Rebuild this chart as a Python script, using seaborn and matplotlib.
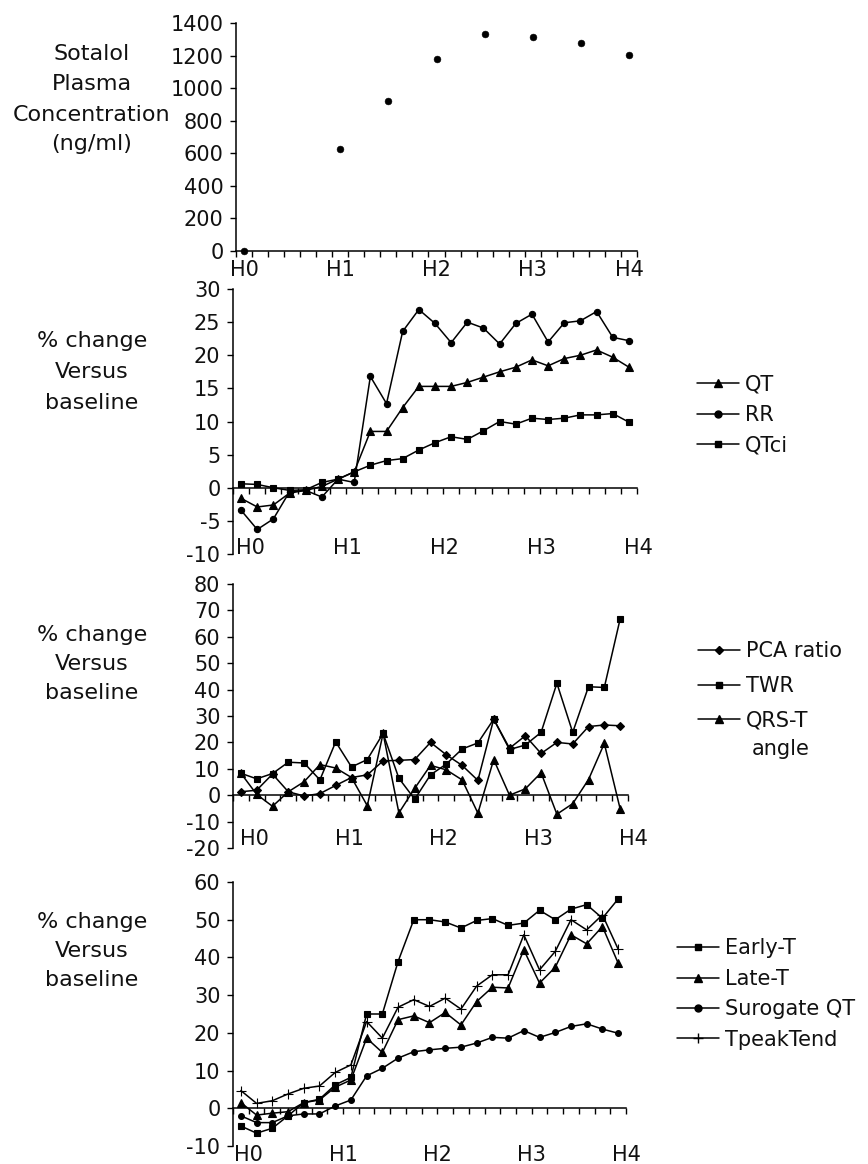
import numpy as np
import pandas as pd
import matplotlib
matplotlib.use("Agg")
import matplotlib.pyplot as plt
import matplotlib.transforms as mtrans
from matplotlib.lines import Line2D
import seaborn as sns

sns.set_theme(style="white")
plt.rcParams["font.family"] = ["DejaVu Sans"]
plt.rcParams["axes.linewidth"] = 1.0

# time points, minutes after first dose (every 10 min)
MINUTES = [0, 10, 20, 30, 40, 50, 60, 70, 80, 90, 100, 110, 120,
           130, 140, 150, 160, 170, 180, 190, 200, 210, 220, 230, 240]
HOUR_TICKS = [0, 60, 120, 180, 240]
HOUR_LABELS = ["H0", "H1", "H2", "H3", "H4"]

# panel 1 - sotalol plasma concentration (ng/ml)
conc_min = [0, 60, 90, 120, 150, 180, 210, 240]
conc_val = [0, 625, 918, 1179, 1330, 1312, 1277, 1203]

# panel 2 - % change vs baseline
qt   = [-1.6, -2.9, -2.6, -0.8, -0.4, 0.2, 1.3, 2.4, 8.5, 8.5, 12.1, 15.3, 15.3,
        15.3, 15.9, 16.7, 17.5, 18.2, 19.3, 18.4, 19.5, 20.0, 20.8, 19.7, 18.2]
rr   = [-3.4, -6.3, -4.7, -0.6, -0.4, -1.4, 1.3, 0.8, 16.8, 12.7, 23.6, 26.9, 24.8,
        21.9, 25.0, 24.1, 21.7, 24.8, 26.2, 22.0, 24.9, 25.2, 26.6, 22.7, 22.2]
qtci = [0.6, 0.5, 0.0, -0.4, -0.3, 0.8, 1.3, 2.4, 3.4, 4.1, 4.4, 5.7, 6.8,
        7.7, 7.3, 8.6, 10.0, 9.6, 10.5, 10.3, 10.5, 11.0, 11.0, 11.2, 9.9]

# panel 3
pca = [1.3, 1.9, 8.0, 1.3, -0.3, 0.6, 3.7, 6.7, 7.7, 13.0, 13.2, 13.5, 20.0,
       15.3, 11.3, 5.6, 28.8, 17.8, 22.5, 15.8, 20.0, 19.4, 26.0, 26.6, 26.3]
twr = [8.3, 6.2, 8.2, 12.5, 12.2, 5.8, 20.2, 10.7, 13.5, 23.4, 6.4, -1.5, 7.7,
       11.8, 17.5, 19.8, 28.8, 17.3, 19.0, 23.8, 42.4, 23.8, 41.1, 40.8, 66.7]
qrst = [8.3, 0.3, -4.2, 1.3, 5.1, 11.6, 10.3, 6.7, -4.0, 23.4, -6.7, 2.6, 11.3,
        9.6, 5.8, -6.8, 13.5, 0.0, 2.4, 8.5, -7.2, -3.2, 5.9, 19.6, -5.1]

# panel 4
early_t = [-4.7, -6.6, -5.3, -2.0, 1.5, 2.4, 6.2, 8.2, 25.0, 25.0, 38.9, 50.0, 50.0,
           49.4, 47.8, 49.8, 50.3, 48.5, 49.1, 52.5, 50.0, 52.8, 54.0, 50.4, 55.5]
late_t  = [1.5, -1.8, -1.3, -0.9, 1.5, 2.2, 5.6, 7.5, 18.6, 14.8, 23.5, 24.5, 22.7,
           25.4, 22.1, 28.3, 32.1, 31.9, 42.0, 33.2, 37.4, 46.0, 43.6, 48.2, 38.5]
surr_qt = [-2.0, -3.8, -3.8, -2.0, -1.5, -1.5, 0.6, 2.2, 8.6, 10.6, 13.3, 15.0, 15.5,
           15.9, 16.2, 17.3, 18.8, 18.6, 20.6, 18.8, 20.1, 21.7, 22.4, 21.0, 19.9]
tpte    = [4.7, 1.3, 2.0, 3.8, 5.3, 5.9, 9.5, 11.5, 23.0, 18.6, 26.8, 28.8, 27.0,
           29.2, 26.3, 32.4, 35.4, 35.4, 46.0, 36.7, 41.6, 50.0, 47.3, 51.3, 42.2]

W, H = 868, 1164
fig = plt.figure(figsize=(W / 100, H / 100), dpi=100)


def add_ax(l, r, t, b):
    return fig.add_axes([l / W, 1 - b / H, (r - l) / W, (b - t) / H])


TICK_FS = 15
LAB_FS = 16
LW = 1.1


def style(ax, ylim, yticks, zero_axis=True):
    ax.set_xlim(-5, 245)
    ax.set_ylim(*ylim)
    ax.set_yticks(yticks)
    ax.set_yticklabels([str(v) for v in yticks])
    ax.set_xticks(np.arange(-5, 250, 10))
    ax.set_xticklabels([])
    ax.spines["top"].set_visible(False)
    ax.spines["right"].set_visible(False)
    for s in ["left", "bottom"]:
        ax.spines[s].set_color("black")
        ax.spines[s].set_linewidth(LW)
    if zero_axis:
        ax.spines["bottom"].set_position(("data", 0))
    ax.tick_params(axis="x", direction="out", length=4, width=1, color="black",
                   bottom=True)
    ax.tick_params(axis="y", direction="out", length=4, width=1, color="black",
                   labelsize=TICK_FS, pad=5, left=True, labelcolor="#111111")
    ax.set_xlabel("")
    ax.set_ylabel("")
    ax.grid(False)


def hour_labels(ax, dx, dy_px, va):
    tr = mtrans.blended_transform_factory(ax.transData, ax.transAxes)
    tr = mtrans.offset_copy(tr, fig=fig, x=0, y=dy_px, units="dots")
    for m, lab in zip(HOUR_TICKS, HOUR_LABELS):
        ax.text(m + dx, 0, lab, transform=tr, ha="center", va=va,
                fontsize=TICK_FS, color="#111111")


def left_label(lines, ys):
    for txt, y in zip(lines, ys):
        fig.text(92 / W, 1 - y / H, txt, ha="center", va="center",
                 fontsize=LAB_FS, color="#111111")


line_kw = dict(color="black", linewidth=LW, markeredgecolor="black",
               markeredgewidth=0.8, legend=False)

# ---- panel 1
ax1 = add_ax(236, 637, 23, 251)
sns.scatterplot(x=conc_min, y=conc_val, color="black", s=24, edgecolor="black",
                ax=ax1, zorder=3, clip_on=False)
style(ax1, (0, 1400), list(range(0, 1401, 200)), zero_axis=False)
hour_labels(ax1, 0, -19, "center")
left_label(["Sotalol", "Plasma", "Concentration", "(ng/ml)"], [54, 84, 115, 144])

# ---- panel 2
ax2 = add_ax(233, 637, 289, 554)
sns.lineplot(x=MINUTES, y=qt, marker="^", markersize=6, ax=ax2, **line_kw)
sns.lineplot(x=MINUTES, y=rr, marker="o", markersize=4.5, ax=ax2, **line_kw)
sns.lineplot(x=MINUTES, y=qtci, marker="s", markersize=4.2, ax=ax2, **line_kw)
style(ax2, (-10, 30), list(range(-10, 31, 5)))
hour_labels(ax2, 6, 6, "center")
left_label(["% change", "Versus", "baseline"], [341, 372, 403])

# ---- panel 3
ax3 = add_ax(233, 628, 584, 848)
sns.lineplot(x=MINUTES, y=pca, marker="D", markersize=3.6, ax=ax3, **line_kw)
sns.lineplot(x=MINUTES, y=twr, marker="s", markersize=4.5, ax=ax3, **line_kw)
sns.lineplot(x=MINUTES, y=qrst, marker="^", markersize=5.5, ax=ax3, **line_kw)
style(ax3, (-20, 80), list(range(-20, 81, 10)))
hour_labels(ax3, 8.5, 9, "center")
left_label(["% change", "Versus", "baseline"], [635, 664, 693])

# ---- panel 4
ax4 = add_ax(233, 626, 882, 1146)
sns.lineplot(x=MINUTES, y=early_t, marker="s", markersize=4.2, ax=ax4, **line_kw)
sns.lineplot(x=MINUTES, y=late_t, marker="^", markersize=5.5, ax=ax4, **line_kw)
sns.lineplot(x=MINUTES, y=surr_qt, marker="o", markersize=4.2, ax=ax4, **line_kw)
sns.lineplot(x=MINUTES, y=tpte, marker="+", markersize=6.5, ax=ax4, **line_kw)
style(ax4, (-10, 60), list(range(-10, 61, 10)))
hour_labels(ax4, 5, -9, "center")
left_label(["% change", "Versus", "baseline"], [922, 951, 980])


def legend(ax, entries, x_px, y_px, spacing):
    handles = [Line2D([], [], color="black", lw=LW, marker=m, markersize=ms,
                      markeredgecolor="black", markerfacecolor="black")
               for m, ms, _ in entries]
    leg = ax.legend(handles, [e[2] for e in entries], loc="center left",
                    bbox_to_anchor=(x_px / W, 1 - y_px / H),
                    bbox_transform=fig.transFigure, frameon=False,
                    handlelength=2.0, handletextpad=0.3, labelspacing=spacing,
                    borderpad=0, borderaxespad=0, fontsize=TICK_FS)
    for t in leg.get_texts():
        t.set_color("#111111")
    return leg


legend(ax2, [("^", 6, "QT"), ("o", 5, "RR"), ("s", 5, "QTci")], 697, 415, 0.5)
legend(ax3, [("D", 4, "PCA ratio"), ("s", 5, "TWR"), ("^", 6, "QRS-T")], 698, 686, 0.7)
fig.text(781 / W, 1 - 749 / H, "angle", ha="center", va="center",
         fontsize=TICK_FS, color="#111111")
legend(ax4, [("s", 5, "Early-T"), ("^", 6, "Late-T"), ("o", 5, "Surogate QT"),
             ("+", 7, "TpeakTend")], 677, 994, 0.5)

fig.savefig("out.png", dpi=100, facecolor="white")
